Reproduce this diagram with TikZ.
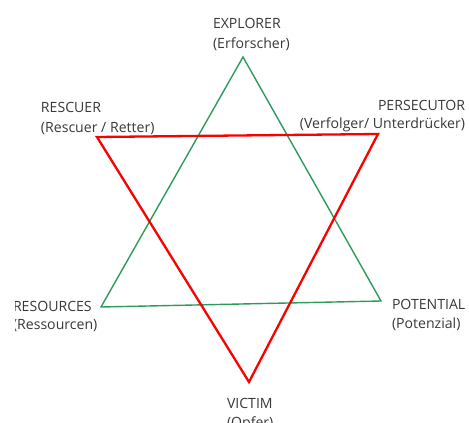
\documentclass[tikz,border=0pt]{standalone}
\usepackage{fontspec}
\setmainfont{Open Sans}
\begin{document}
\begin{tikzpicture}[x=1pt,y=-1pt,
  lbl/.style={inner sep=0pt,outer sep=0pt,text=black!78,font=\fontsize{14.1}{17}\selectfont},
  tri green/.style={draw={rgb,255:red,44;green,155;blue,92},line width=1.4pt,line join=miter},
  tri red/.style={draw={rgb,255:red,250;green,0;blue,0},line width=2.3pt,line join=miter}]
\useasboundingbox (0,0) rectangle (469,423);
\clip (15,0) rectangle (469,423);
% vertices
\coordinate (gT) at (243,57);
\coordinate (gL) at (101,307);
\coordinate (gR) at (381,301);
\coordinate (rL) at (97,137);
\coordinate (rR) at (378,134);
\coordinate (rB) at (249,382);
\draw[tri green] (gT) -- (gR) -- (gL) -- cycle;
\draw[tri red] (rL) -- (rR) -- (rB) -- cycle;
% labels
\node[lbl,anchor=base west] (exp) at (213,28) {EXPLORER};
\node[lbl,anchor=base west] (expd) at (213,48) {(Erforscher)};
\node[lbl,anchor=base west] (res) at (41,112) {RESCUER};
\node[lbl,anchor=base west] (resd) at (41,132) {(Rescuer / Retter)};
\node[lbl,anchor=base east] (per) at (465,110) {PERSECUTOR};
\node[lbl,anchor=base east] (perd) at (465,128) {(Verfolger/ Unterdrücker)};
\node[lbl,anchor=base west] (rsc) at (13,311) {RESOURCES};
\node[lbl,anchor=base west] (rscd) at (13,329) {(Ressourcen)};
\node[lbl,anchor=base west] (pot) at (392,309) {POTENTIAL};
\node[lbl,anchor=base west] (potd) at (392,328) {(Potenzial)};
\node[lbl,anchor=base west] (vic) at (227,408) {VICTIM};
\node[lbl,anchor=base west] (vicd) at (227,427) {(Opfer)};
\end{tikzpicture}
\end{document}
